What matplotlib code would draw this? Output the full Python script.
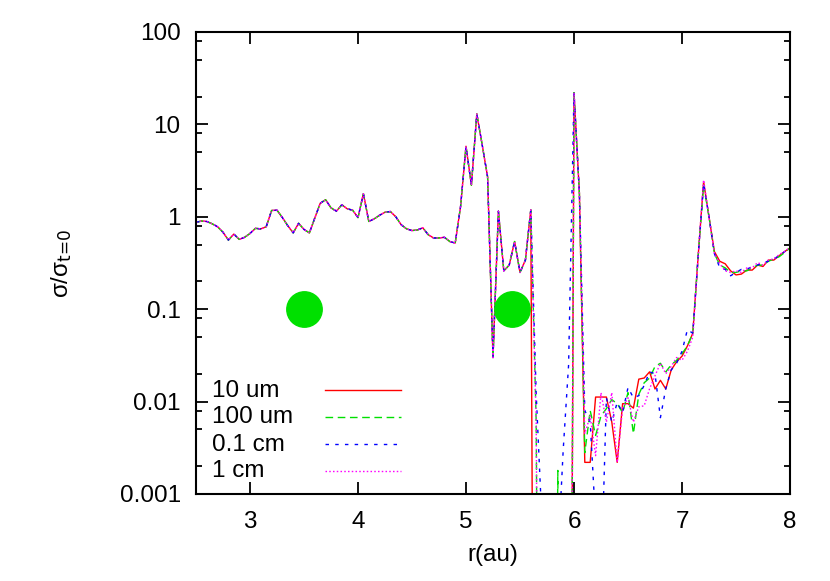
import numpy as np
import matplotlib
matplotlib.use("Agg")
import matplotlib.pyplot as plt

plt.rcParams['font.family'] = ['Liberation Sans', 'DejaVu Sans']
plt.rcParams['mathtext.default'] = 'regular'

# radial grid (au), 0.05 au spacing from 2.5 to 8.0
r = np.linspace(2.5, 8.0, 111)

# common part, r = 2.50 ... 5.60
head = [0.87, 0.90, 0.89, 0.84, 0.78, 0.68, 0.56, 0.65, 0.57, 0.60,
        0.66, 0.75, 0.74, 0.78, 1.17, 1.18, 0.98, 0.80, 0.67, 0.85,
        0.73, 0.67, 0.97, 1.40, 1.53, 1.25, 1.15, 1.35, 1.22, 1.18,
        0.98, 1.78, 0.89, 0.95, 1.04, 1.12, 1.14, 1.00, 0.82, 0.74,
        0.71, 0.72, 0.76, 0.64, 0.59, 0.59, 0.60, 0.54, 0.52, 1.30,
        5.80, 2.20, 13.0, 6.00, 2.70, 0.030, 1.15, 0.26, 0.30, 0.54,
        0.25, 0.34, 1.19]

# r = 5.65 ... 7.15, where the grain sizes differ
mid_10um = [1e-12, 1e-12, 1e-12, 1e-12, 1e-12, 1e-12, 1e-12, 22.0, 1.8, 0.0022,
            0.0022, 0.0112, 0.0112, 0.0112, 0.006, 0.0022, 0.0095, 0.0095, 0.0085, 0.0175,
            0.018, 0.021, 0.0137, 0.017, 0.0137, 0.022, 0.027, 0.031, 0.040, 0.055, 0.38]
mid_100um = [0.006, 1e-12, 1e-12, 1e-12, 0.0018, 1e-12, 1e-12, 22.0, 1.8, 0.0028,
             0.008, 0.0043, 0.007, 0.0084, 0.0105, 0.0095, 0.0076, 0.0125, 0.0045, 0.012,
             0.016, 0.018, 0.024, 0.026, 0.021, 0.025, 0.028, 0.033, 0.040, 0.055, 0.38]
mid_01cm = [0.012, 6e-4, 1e-12, 1e-12, 2e-4, 0.003, 0.025, 22.0, 1.8, 0.008,
            0.006, 5e-4, 1e-4, 0.011, 0.006, 0.0098, 0.0076, 0.0142, 0.011, 0.0116,
            0.015, 0.021, 0.020, 0.0067, 0.0139, 0.022, 0.026, 0.035, 0.060, 0.055, 0.38]
mid_1cm = [0.006, 1e-12, 1e-12, 1e-12, 1e-12, 1e-12, 1e-12, 22.0, 1.8, 0.0045,
           0.007, 0.0026, 0.0125, 0.006, 0.0125, 0.0022, 0.0085, 0.011, 0.006, 0.0088,
           0.009, 0.0138, 0.019, 0.026, 0.020, 0.024, 0.030, 0.028, 0.035, 0.050, 0.38]

# r = 7.20 ... 8.00
tail_10um = [2.4, 1.0, 0.42, 0.33, 0.31, 0.26, 0.235, 0.24, 0.265, 0.265, 0.30, 0.29, 0.34, 0.34, 0.38, 0.42, 0.46]
tail_100um = [2.2, 1.0, 0.40, 0.30, 0.28, 0.25, 0.25, 0.26, 0.26, 0.28, 0.30, 0.30, 0.33, 0.35, 0.37, 0.41, 0.46]
tail_01cm = [2.3, 1.0, 0.40, 0.28, 0.27, 0.23, 0.25, 0.27, 0.27, 0.29, 0.30, 0.32, 0.33, 0.35, 0.38, 0.42, 0.46]
tail_1cm = [2.5, 1.0, 0.40, 0.31, 0.26, 0.25, 0.26, 0.25, 0.28, 0.28, 0.32, 0.30, 0.34, 0.35, 0.39, 0.42, 0.47]

labels = ['10 um', '100 um', '0.1 cm', '1 cm']
planet_r = [3.5, 5.43]
planet_s = [0.1, 0.1]

series = [head + mid_10um + tail_10um,
          head + mid_100um + tail_100um,
          head + mid_01cm + tail_01cm,
          head + mid_1cm + tail_1cm]
colors = ['#ff0000', '#00e000', '#0000ff', '#ff00ff']
styles = ['-', (0, (5.5, 3.3)), (0, (2.5, 4.5)), (0, (1.1, 1.6))]

fig = plt.figure(figsize=(8.3, 5.81), dpi=100)
ax = fig.add_axes([196/830, 1 - 494/581, 594/830, 462/581])

for s, c, ls in zip(series, colors, styles):
    ax.plot(r, s, color=c, linestyle=ls, lw=1.0)

ax.plot(planet_r, planet_s, 'o', color='#00e000', markersize=25.5, zorder=5)

ax.set_yscale('log')
ax.set_xlim(2.5, 8)
ax.set_ylim(0.001, 100)
ax.set_xticks([3, 4, 5, 6, 7, 8])
ax.set_yticks([0.001, 0.01, 0.1, 1, 10, 100])
ax.set_yticklabels(['0.001', '0.01', '0.1', '1', '10', '100'])
ax.yaxis.set_minor_locator(matplotlib.ticker.LogLocator(base=10, subs=[2, 5, 8]))
ax.yaxis.set_minor_formatter(matplotlib.ticker.NullFormatter())
ax.tick_params(which='both', direction='in', top=True, right=True, labelsize=17.5)
ax.tick_params(which='major', length=8.5, width=1.3)
ax.tick_params(which='minor', length=4, width=1.3)
ax.tick_params(axis='y', pad=11)
ax.tick_params(axis='x', pad=12)
for sp in ax.spines.values():
    sp.set_linewidth(1.5)

ax.set_xlabel('r(au)', fontsize=17.5)
ax.set_ylabel(r'σ/σ$_{\text{t=0}}$', fontsize=17.5)
ax.xaxis.set_label_coords(0.5, -0.108)
ax.yaxis.set_label_coords(-0.205, 0.5)

# key, gnuplot style (text left, sample line right)
text_y = [0.2106, 0.1530, 0.0931, 0.0361]
line_y = [0.2245, 0.1667, 0.1089, 0.0498]
for lab, ty, ly, c, ls in zip(labels, text_y, line_y, colors, styles):
    ax.text(0.027, ty, lab, transform=ax.transAxes, fontsize=17.5, va='baseline', ha='left')
    ax.plot([0.217, 0.345], [ly, ly], transform=ax.transAxes, color=c, linestyle=ls, lw=1.0)

fig.savefig('out.png', dpi=100)
